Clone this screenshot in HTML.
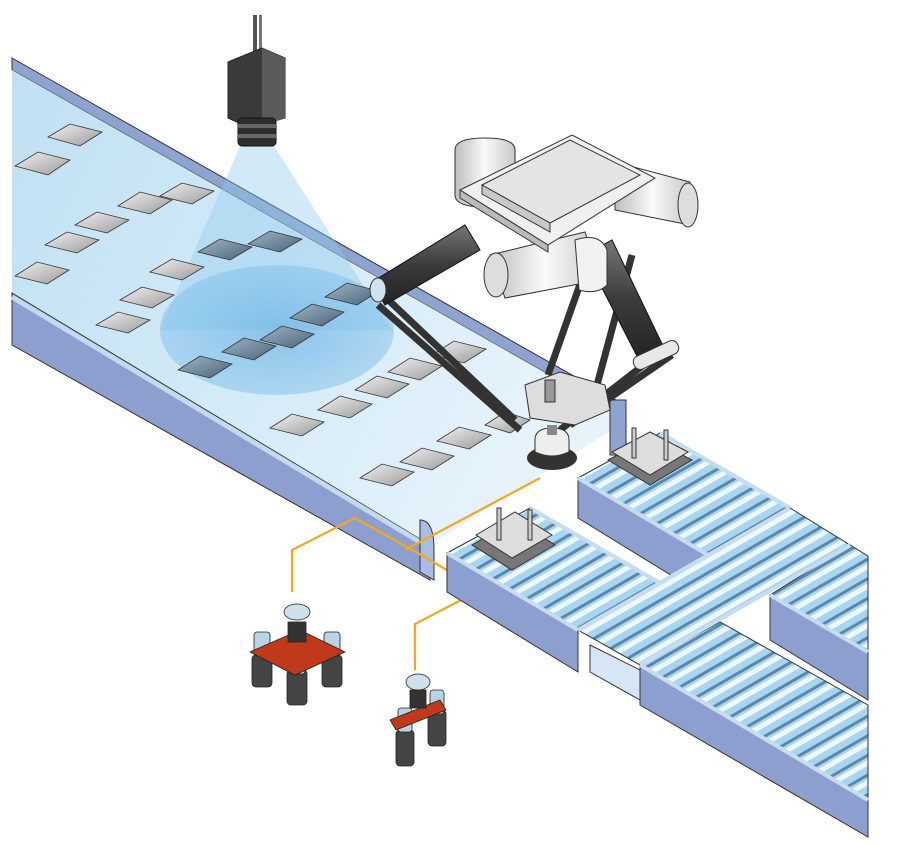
<!DOCTYPE html>
<html><head><meta charset="utf-8"><style>html,body{margin:0;padding:0;background:#fff}svg{display:block}</style></head>
<body>
<svg width="920" height="845" viewBox="0 0 920 845" xmlns="http://www.w3.org/2000/svg">
<defs>
<linearGradient id="belt" x1="0" y1="0" x2="1" y2="0.4"><stop offset="0" stop-color="#bfe0f3"/><stop offset="1" stop-color="#e6f3fb"/></linearGradient>
<linearGradient id="tile" x1="0" y1="0" x2="1" y2="1"><stop offset="0" stop-color="#f2f2f2"/><stop offset="1" stop-color="#9a9a9a"/></linearGradient>
<linearGradient id="tileD" x1="0" y1="0" x2="1" y2="1"><stop offset="0" stop-color="#9fb5c5"/><stop offset="1" stop-color="#4a6478"/></linearGradient>
<linearGradient id="metal" x1="0" y1="0" x2="1" y2="0"><stop offset="0" stop-color="#bdbdbd"/><stop offset="0.5" stop-color="#fafafa"/><stop offset="1" stop-color="#c8c8c8"/></linearGradient>
<linearGradient id="rod" x1="0" y1="0" x2="0" y2="1"><stop offset="0" stop-color="#777"/><stop offset="0.5" stop-color="#3a3a3a"/><stop offset="1" stop-color="#222"/></linearGradient>
<pattern id="rollers" width="17" height="17" patternUnits="userSpaceOnUse" patternTransform="rotate(-30)">
<rect width="17" height="17" fill="#5d86ad"/>
<rect x="0" y="1.5" width="17" height="14" fill="#a8d6f1"/>
<rect x="0" y="4" width="17" height="5" fill="#eef8fd"/>
</pattern>
<radialGradient id="spot" cx="0.5" cy="0.5" r="0.5"><stop offset="0" stop-color="#6fb5e3" stop-opacity="0.75"/><stop offset="1" stop-color="#7fc0ea" stop-opacity="0.5"/></radialGradient>
</defs>

<polygon points="12,58 625,405 625,418 12,70" fill="#8ea3cf" stroke="#333" stroke-width="1"/>
<polygon points="12,70 625,418 615,428 430,545 12,295" fill="url(#belt)"/>
<polygon points="12,293 430,545 430,580 12,345" fill="#8c9fcf" stroke="#333" stroke-width="1"/>
<polyline points="12,297 430,548" fill="none" stroke="#c5d9ee" stroke-width="5"/>
<path d="M420,520 q14,0 14,30 l0,30 l-14,-8 z" fill="#a9bde0" stroke="#333"/>
<rect x="610" y="400" width="16" height="55" fill="#8ea3cf" stroke="#333"/>

<polygon points="240,146 274,146 392,330 160,330" fill="#8fcaee" opacity="0.4"/>
<ellipse cx="277" cy="330" rx="117" ry="65" fill="url(#spot)"/>

<g stroke="#333" stroke-width="0.8">
<g fill="url(#tile)">
<polygon points="48,137 70,124 102,132 80,146"/>
<polygon points="15,166 38,152 70,160 48,175"/>
<polygon points="118,206 140,192 172,200 150,214"/>
<polygon points="160,196 182,183 214,191 192,204"/>
<polygon points="75,225 97,212 129,220 107,233"/>
<polygon points="45,245 67,232 99,240 77,253"/>
<polygon points="15,276 37,262 69,270 47,284"/>
<polygon points="150,272 172,259 204,267 182,280"/>
<polygon points="120,300 142,287 174,295 152,308"/>
<polygon points="96,325 118,312 150,320 128,333"/>
<polygon points="270,428 292,414 324,422 302,436"/>
<polygon points="318,410 340,396 372,404 350,418"/>
<polygon points="355,390 377,376 409,384 387,398"/>
<polygon points="388,372 410,358 442,366 420,380"/>
<polygon points="432,355 454,341 486,349 464,363"/>
<polygon points="437,441 459,427 491,435 469,449"/>
<polygon points="400,462 422,448 454,456 432,470"/>
<polygon points="360,478 382,464 414,472 392,486"/>
<polygon points="485,425 505,412 530,420 510,433"/>
</g>
<g fill="url(#tileD)">
<polygon points="198,252 220,239 252,247 230,260"/>
<polygon points="248,244 270,231 302,239 280,252"/>
<polygon points="325,297 347,283 379,291 357,305"/>
<polygon points="290,318 312,304 344,312 322,326"/>
<polygon points="260,340 282,326 314,334 292,348"/>
<polygon points="222,352 244,338 276,346 254,360"/>
<polygon points="178,370 200,356 232,364 210,378"/>
</g>
</g>

<rect x="253" y="15" width="4" height="40" fill="#555"/><rect x="259" y="15" width="3" height="35" fill="#777"/>
<polygon points="228,62 262,48 285,58 285,118 250,128 228,118" fill="#3a3a3a" stroke="#222"/>
<polygon points="262,48 285,58 285,118 262,126" fill="#5a5a5a"/>
<rect x="238" y="118" width="38" height="28" rx="4" fill="#2e2e2e" stroke="#111"/>
<rect x="238" y="124" width="38" height="4" fill="#666"/><rect x="238" y="134" width="38" height="4" fill="#666"/>

<g stroke="#222" stroke-width="1">
<line x1="380" y1="292" x2="515" y2="420" stroke="#333" stroke-width="7"/>
<line x1="378" y1="305" x2="520" y2="430" stroke="#333" stroke-width="7"/>
<line x1="548" y1="375" x2="585" y2="270" stroke="#333" stroke-width="7"/>
<line x1="597" y1="385" x2="632" y2="255" stroke="#333" stroke-width="7"/>
<line x1="560" y1="430" x2="650" y2="360" stroke="#333" stroke-width="7"/>
<line x1="570" y1="425" x2="672" y2="355" stroke="#333" stroke-width="7"/>
</g>
<polygon points="372,282 465,225 480,250 385,305" fill="url(#rod)" stroke="#111"/>
<polygon points="585,255 612,240 665,350 640,362" fill="url(#rod)" stroke="#111"/>
<rect x="632" y="348" width="48" height="14" rx="6" fill="#e8e8e8" stroke="#333" transform="rotate(-25 656 355)"/>
<ellipse cx="378" cy="290" rx="8" ry="12" fill="#cfe3ef" stroke="#333"/>

<path d="M455,150 q0,-12 30,-12 q30,0 30,12 l0,45 q0,12 -30,12 q-30,0 -30,-12 z" fill="url(#metal)" stroke="#333"/>
<polygon points="615,162 690,182 690,225 615,210" fill="url(#metal)" stroke="#333"/>
<ellipse cx="688" cy="205" rx="10" ry="22" fill="#ddd" stroke="#333"/>
<polygon points="490,255 585,232 600,280 505,298" fill="url(#metal)" stroke="#333"/>
<ellipse cx="496" cy="275" rx="12" ry="22" fill="#ddd" stroke="#333"/>
<path d="M575,240 q25,-8 32,10 l0,35 q-10,10 -28,5 z" fill="#f2f2f2" stroke="#333"/>
<polygon points="460,190 572,135 655,178 548,245" fill="#f0f0f0" stroke="#333"/>
<polygon points="460,190 548,245 548,252 460,198" fill="#bbb" stroke="#333"/>
<polygon points="482,185 570,140 640,175 550,223" fill="#e4e4e4" stroke="#333"/>
<polygon points="482,185 550,223 550,232 482,194" fill="#c8c8c8" stroke="#333"/>

<polygon points="525,385 560,372 605,385 610,410 575,425 530,418" fill="#ddd" stroke="#333"/>
<rect x="545" y="380" width="10" height="22" fill="#999" stroke="#333"/>
<ellipse cx="552" cy="458" rx="25" ry="12" fill="#333"/>
<path d="M535,440 q0,-12 17,-12 q17,0 17,12 l0,12 q-17,8 -34,0 z" fill="#eee" stroke="#333"/>
<rect x="547" y="425" width="10" height="10" fill="#888"/>

<g fill="none" stroke="#f5a623" stroke-width="2.2">
<polyline points="292,592 292,550 355,518 430,560 480,590 415,624 415,670"/>
<polyline points="540,478 405,550"/>
</g>

<g stroke="#333" stroke-width="1">
<polygon points="578,478 660,433 790,508 708,555" fill="url(#rollers)"/>
<polygon points="578,478 708,555 708,598 578,518" fill="#8c9fcf"/>
<polygon points="447,553 530,508 660,583 578,630" fill="url(#rollers)"/>
<polygon points="447,553 578,630 578,672 447,592" fill="#8c9fcf"/>
<polygon points="578,630 790,508 850,545 640,665" fill="url(#rollers)"/>
<polygon points="590,645 640,670 640,700 590,672" fill="#d6e6f7"/>
<polygon points="770,595 850,545 868,556 868,650" fill="url(#rollers)"/>
<polygon points="770,595 868,652 868,700 770,640" fill="#8c9fcf"/>
<polygon points="640,665 720,622 868,705 868,800" fill="url(#rollers)"/>
<polygon points="640,665 868,800 868,837 640,705" fill="#8c9fcf"/>
</g>
<g fill="none" stroke="#c7dcee" stroke-width="4">
<polyline points="578,478 708,555"/><polyline points="660,433 790,508"/>
<polyline points="447,553 578,630"/><polyline points="530,508 660,583"/>
<polyline points="640,665 868,800"/><polyline points="770,595 868,652"/>
<polyline points="578,630 790,508"/><polyline points="640,665 850,545"/>
</g>

<g stroke="#333">
<polygon points="608,460 650,438 692,460 650,485" fill="#777"/>
<polygon points="612,452 650,432 688,452 650,475" fill="#ddd"/>
<rect x="632" y="428" width="4" height="30" fill="#ccc"/><rect x="664" y="430" width="4" height="30" fill="#ccc"/>
<polygon points="472,545 515,520 555,545 512,570" fill="#777"/>
<polygon points="476,535 515,512 552,535 512,558" fill="#ddd"/>
<rect x="497" y="508" width="4" height="32" fill="#ccc"/><rect x="528" y="510" width="4" height="30" fill="#ccc"/>
</g>

<g stroke="#222" stroke-width="0.8">
<g fill="#444"><rect x="252" y="655" width="20" height="32" rx="4"/><rect x="322" y="655" width="20" height="32" rx="4"/><rect x="287" y="670" width="20" height="35" rx="4"/><rect x="396" y="730" width="18" height="36" rx="4"/><rect x="428" y="710" width="18" height="36" rx="4"/></g>
<g fill="#b8d4e4"><rect x="254" y="632" width="16" height="24" rx="3"/><rect x="324" y="632" width="16" height="24" rx="3"/><rect x="289" y="650" width="16" height="24" rx="3"/><rect x="398" y="708" width="14" height="24" rx="3"/><rect x="430" y="690" width="14" height="24" rx="3"/></g>
<polygon points="250,652 300,630 345,652 295,675" fill="#c0391b"/>
<polygon points="390,720 440,700 446,710 396,730" fill="#c0391b"/>
<rect x="288" y="622" width="18" height="20" fill="#333"/>
<ellipse cx="297" cy="612" rx="13" ry="8" fill="#cfe0ea"/>
<rect x="410" y="690" width="16" height="18" fill="#333"/>
<ellipse cx="418" cy="682" rx="12" ry="8" fill="#cfe0ea"/>
</g>
</svg>
</body></html>
